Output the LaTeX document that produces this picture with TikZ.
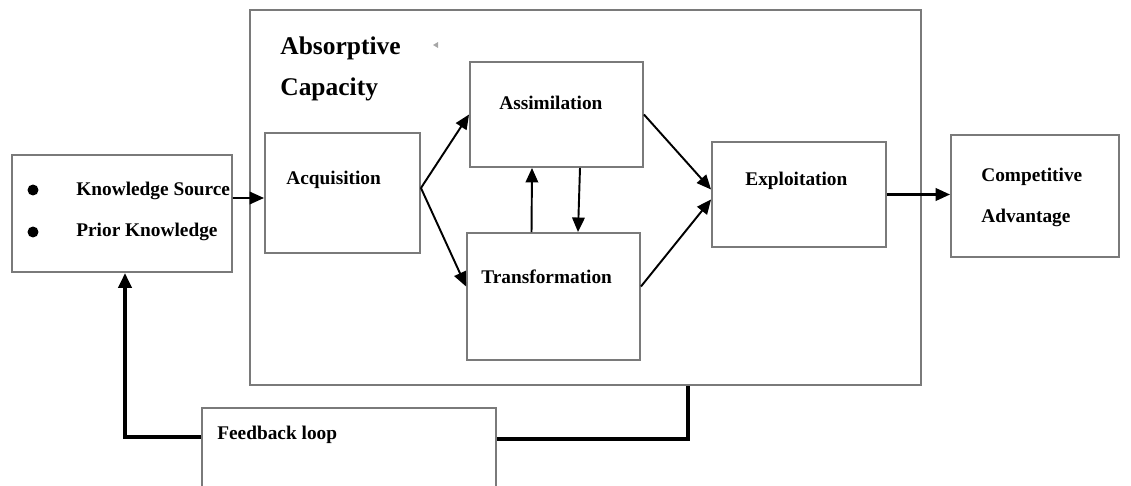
\documentclass[tikz,border=0pt]{standalone}
\usepackage{fontspec}
\setmainfont{Liberation Serif}
\usetikzlibrary{arrows.meta,positioning,calc}
\definecolor{boxGray}{HTML}{7A7A7A}
\tikzset{
  caja/.style={draw=boxGray, line width=1.1pt, inner sep=0pt},
  etiqueta/.style={anchor=west, inner sep=0pt, font=\fontsize{11}{13}\selectfont\bfseries},
  titulo/.style={anchor=north west, inner sep=0pt, align=left, font=\fontsize{14.5}{23.8}\selectfont\bfseries},
  arrflow/.style={-{Triangle[length=2.9mm,width=2.5mm]}, line width=1.1pt},
  arrloop/.style={line width=2.6pt},
}
\begin{document}
\begin{tikzpicture}[x=0.02cm, y=-0.02cm]
\useasboundingbox (0,0) rectangle (1131,486);

\node[caja, minimum width=13.42cm, minimum height=7.5cm] (absorb) at (585.5,197.5) {};
\node[titulo] (absorbtxt) at (280,36) {Absorptive\\Capacity};
\fill[black!35] (433,45) -- (438,42) -- (438,48) -- cycle;

\node[caja, minimum width=4.4cm, minimum height=2.34cm] (src) at (122,213.5) {};
\fill (33,190) circle (0.11cm);
\fill (33,232) circle (0.11cm);
\node[etiqueta] (srctxt) at (76,191) {Knowledge Source};
\node[etiqueta] (priortxt) at (76,232) {Prior Knowledge};

\node[caja, minimum width=3.1cm, minimum height=2.4cm] (acq) at (342.5,193) {};
\node[etiqueta] (acqtxt) at (286,180) {Acquisition};

\node[caja, minimum width=3.46cm, minimum height=2.1cm] (assim) at (556.5,114.5) {};
\node[etiqueta] (assimtxt) at (499,103) {Assimilation};

\node[caja, minimum width=3.46cm, minimum height=2.54cm] (trans) at (553.5,296.5) {};
\node[etiqueta] (transtxt) at (481,277) {Transformation};

\node[caja, minimum width=3.48cm, minimum height=2.1cm] (expl) at (799,194.5) {};
\node[etiqueta] (expltxt) at (745,181) {Exploitation};

\node[caja, minimum width=3.36cm, minimum height=2.44cm] (comp) at (1035,196) {};
\node[etiqueta] (comptxt) at (981,177) {Competitive};
\node[etiqueta] (advtxt) at (981,218) {Advantage};

\node[caja, minimum width=5.88cm, minimum height=1.68cm] (feed) at (349,450) {};
\node[etiqueta] (feedtxt) at (217,435) {Feedback loop};

\draw[arrflow] ([yshift=0.31cm]src.east) -- ([yshift=-0.1cm]acq.west);
\draw[arrflow] ([yshift=0.1cm]acq.east) -- (assim.west);
\draw[arrflow] ([yshift=0.1cm]acq.east) -- ([yshift=0.2cm]trans.west);
\draw[arrflow] ([xshift=-0.44cm]trans.north) -- ([xshift=-0.49cm]assim.south);
\draw[arrflow] ([xshift=0.47cm]assim.south) -- ([xshift=0.49cm]trans.north);
\draw[arrflow] (assim.east) -- ([yshift=0.1cm]expl.west);
\draw[arrflow] ([yshift=0.2cm]trans.east) -- ([yshift=-0.1cm]expl.west);
\draw[arrflow, line width=1.5pt] (expl.east) -- (expl.east -| comp.west);

\draw[arrloop, -{Triangle[length=3mm,width=2.6mm]}] ([yshift=0.26cm]feed.west) -| ([xshift=0.06cm]src.south);
\draw[arrloop] ([yshift=0.22cm]feed.east) -| ([xshift=2.05cm]absorb.south);
\end{tikzpicture}
\end{document}
